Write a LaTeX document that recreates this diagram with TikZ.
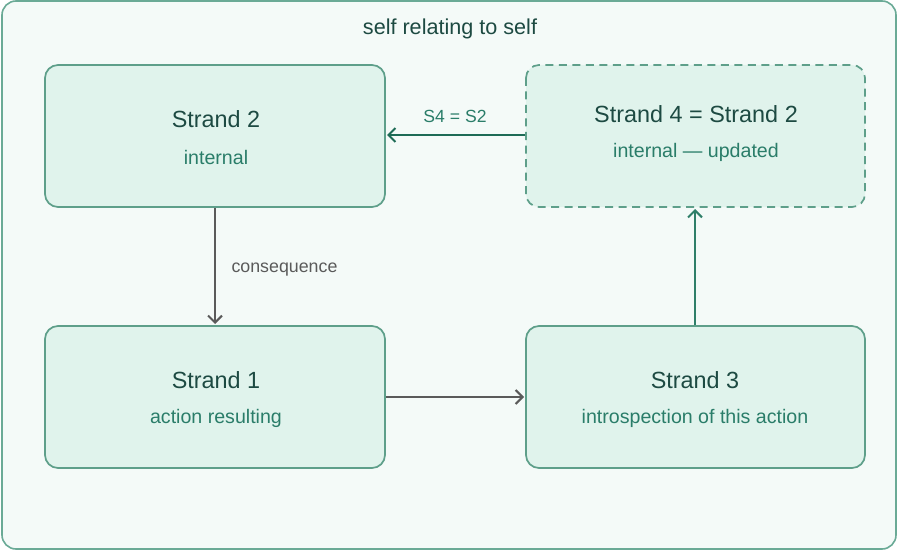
\documentclass[tikz,border=0pt]{standalone}
\usepackage{fontspec}
\setmainfont{Liberation Sans}
\usetikzlibrary{arrows.meta}
\definecolor{framefill}{HTML}{F4FAF8}
\definecolor{framedraw}{HTML}{6AAA96}
\definecolor{boxfill}{HTML}{E0F3EC}
\definecolor{boxdraw}{HTML}{5E9F8A}
\definecolor{headtext}{HTML}{1D4A42}
\definecolor{subtext}{HTML}{2A7D69}
\definecolor{greyline}{HTML}{5A5A5A}
\definecolor{greenline}{HTML}{2F7F69}
\definecolor{darkgreen}{HTML}{1E6B56}
\tikzset{
  x=1pt, y=-1pt,
  strandbox/.style={draw=boxdraw, fill=boxfill, line width=1.7pt, rounded corners=13pt},
  headline/.style={text=headtext, font=\fontsize{23.4}{26}\selectfont},
  subline/.style={text=subtext, font=\fontsize{19.6}{22}\selectfont},
  tip/.style={-{Straight Barb[length=7pt,width=14pt,line width=2pt]}},
  greyarrow/.style={tip, draw=greyline, line width=2.2pt},
  greenarrow/.style={tip, draw=greenline, line width=2.5pt},
}
\begin{document}
\begin{tikzpicture}
\useasboundingbox (0,0) rectangle (898,551);
% outer frame
\draw[draw=framedraw, fill=framefill, line width=1.6pt, rounded corners=14pt] (2,1) rectangle (896,549);
\node[text=headtext, font=\fontsize{21.6}{24}\selectfont] (title) at (450,29) {self relating to self};

% strand boxes
\draw[strandbox] (45,65) rectangle (385,207);
\node[headline] (s2h) at (216,119) {Strand 2};
\node[subline] (s2s) at (216,157) {internal};

\draw[strandbox, dash pattern=on 8pt off 5.5pt] (526,65) rectangle (865,207);
\node[headline] (s4h) at (696,114) {Strand 4 = Strand 2};
\node[subline] (s4s) at (696,152) {internal — updated};

\draw[strandbox] (45,326) rectangle (385,468);
\node[headline] (s1h) at (216,380) {Strand 1};
\node[subline] (s1s) at (216,418) {action resulting};

\draw[strandbox] (526,326) rectangle (865,468);
\node[headline] (s3h) at (695,380) {Strand 3};
\node[subline] (s3s) at (695,418) {introspection of this action};

% anchor points on the box edges
\coordinate (s2bottom) at (215,208);
\coordinate (s1top) at (215,324);
\coordinate (s1right) at (386,397);
\coordinate (s3left) at (524,397);
\coordinate (s3top) at (695,325);
\coordinate (s4bottom) at (695,209);
\coordinate (s4left) at (525,135);
\coordinate (s2right) at (387,135);

% connectors
\draw[greyarrow] (s2bottom) -- (s1top);
\node[text=greyline, font=\fontsize{17.8}{20}\selectfont, anchor=west] (cons) at (228,270) {consequence};
\draw[greyarrow] (s1right) -- (s3left);
\draw[greenarrow] (s3top) -- (s4bottom);
\draw[tip, draw=darkgreen, line width=2.5pt] (s4left) -- (s2right);
\node[text=subtext, font=\fontsize{17.6}{20}\selectfont] (eq) at (455,116) {S4 = S2};
\end{tikzpicture}
\end{document}
